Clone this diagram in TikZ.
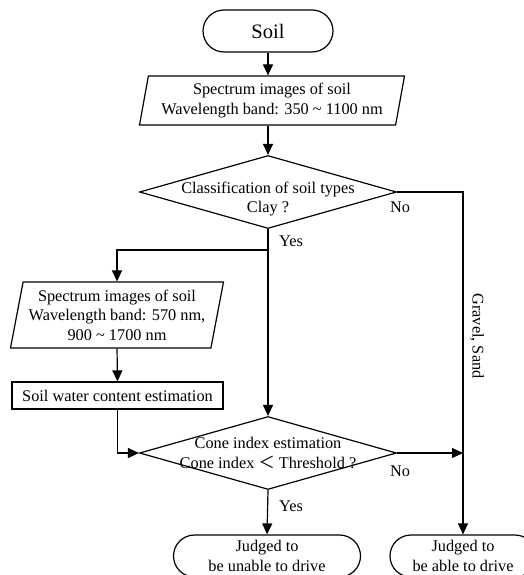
\documentclass[tikz,border=0pt]{standalone}
\usepackage{fontspec}
\setmainfont{Liberation Serif}
\newfontfamily\cjk{Noto Sans CJK JP}
\usetikzlibrary{shapes.geometric,arrows.meta}

\begin{document}
\begin{tikzpicture}[x=1pt,y=-1pt,line width=1.2pt,
	every node/.style = {font=\fontsize{16.3}{19.5}\selectfont, align=center},
	term/.style = {draw, rounded corners=21pt, minimum width=130pt, minimum height=42pt, inner sep=0pt},
	io/.style = {draw, trapezium, trapezium left angle=77, trapezium right angle=103, trapezium stretches body, inner sep=2pt},
	proc/.style = {draw, minimum width=211pt, minimum height=27pt, inner sep=0pt},
	test/.style = {draw, diamond, aspect=3.5, inner xsep=-80pt, inner ysep=-18pt, minimum width=257pt, minimum height=73pt},
	arr/.style = {-{Triangle[length=11pt,width=10pt]}}]
					\useasboundingbox (0,0) rectangle (524,575);
					\clip (0,0) rectangle (524,575);
					\node[term, font=\fontsize{20.5}{24}\selectfont] (soil) at (268,31) {Soil};
					\node[io, minimum width=265pt, minimum height=49pt] (spec1) at (272,100.5) {Spectrum images of soil\\Wavelength band: 350 \textasciitilde{} 1100 nm};
					\node[test, label={[yshift=-7pt]center:{Classification of soil types\\Clay ?}}] (clay) at (268,192) {};
					\coordinate (split) at (268,250);
					\node[io, minimum width=213pt, minimum height=66pt] (spec2) at (117,315) {Spectrum images of soil\\Wavelength band: 570 nm,\\900 \textasciitilde{} 1700 nm};
					\node[proc] (water) at (117.5,395.5) {Soil water content estimation};
					\node[test] (cone) at (268,453) {Cone index estimation\\Cone index {\cjk ＜} Threshold ?};
					\coordinate (join) at (463,453);
					\node[term, minimum width=187pt] (unable) at (267,556) {Judged to\\be unable to drive};
					\node[term, minimum width=146pt] (able) at (463,556) {Judged to\\be able to drive};
					
					\node (no1) at (400,207.5) {No};
					\node (yes1) at (291,241) {Yes};
					\node (no2) at (400,471) {No};
					\node (yes2) at (291,506) {Yes};
					\node[rotate=-90] (gs) at (477,336) {Gravel, Sand};
					
					\draw[arr] (soil.south) -- (soil.south |- spec1.north);
					\draw[arr] (soil.south |- spec1.south) -- (clay.north);
					\draw[arr] (clay.east) -| (able.north);
					\draw[arr] (clay.south) -- (cone.north);
					\draw[arr] (split) -| (spec2.north);
					\draw[arr] (spec2.south) -- (water.north);
					\draw[arr] (water.south) |- (cone.west);
					\draw[arr] (cone.east) -- (join);
					\draw[arr] (cone.south) -- (unable.north);
				\end{tikzpicture}
\end{document}
